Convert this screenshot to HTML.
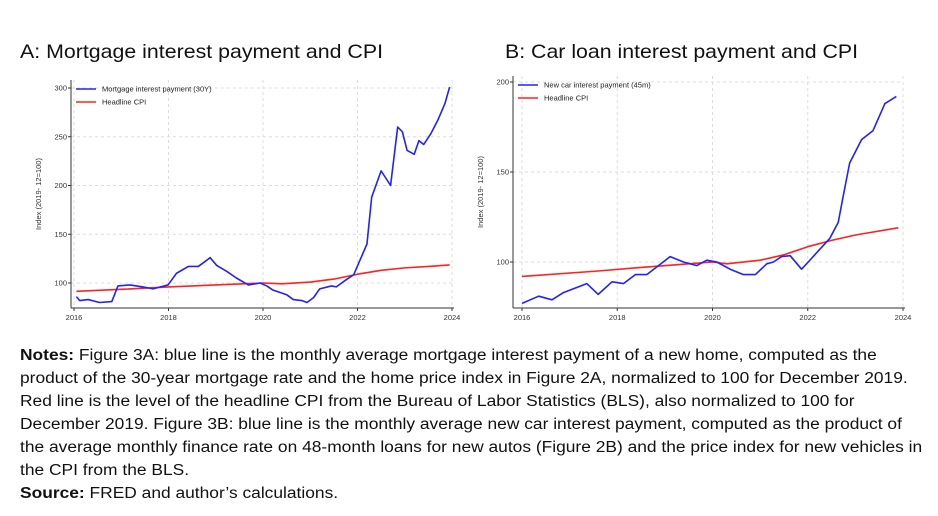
<!DOCTYPE html>
<html><head><meta charset="utf-8"><style>
body{margin:0;background:#fff;width:938px;height:516px;overflow:hidden;font-family:"Liberation Sans",Arial,sans-serif}
#notes{position:absolute;left:20px;top:344px;font-size:15.3px;line-height:23px;color:#111;white-space:nowrap;transform:scaleX(1.136);transform-origin:0 0}
</style></head><body>
<svg id="svg" width="938" height="340" style="position:absolute;left:0;top:0">
<text x="20" y="58" font-size="19.5" fill="#111" textLength="363" lengthAdjust="spacingAndGlyphs">A: Mortgage interest payment and CPI</text>
<text x="505" y="58" font-size="19.5" fill="#111" textLength="353" lengthAdjust="spacingAndGlyphs">B: Car loan interest payment and CPI</text>
</svg>
<div id="notes"><b>Notes:</b> Figure 3A: blue line is the monthly average mortgage interest payment of a new home, computed as the<br>product of the 30-year mortgage rate and the home price index in Figure 2A, normalized to 100 for December 2019.<br>Red line is the level of the headline CPI from the Bureau of Labor Statistics (BLS), also normalized to 100 for<br>December 2019. Figure 3B: blue line is the monthly average new car interest payment, computed as the product of<br>the average monthly finance rate on 48-month loans for new autos (Figure 2B) and the price index for new vehicles in<br>the CPI from the BLS.<br><b>Source:</b> FRED and author’s calculations.</div>
<script>
const xTicks=[2016,2018,2020,2022,2024];
const yTicksA=[100,150,200,250,300];
const yTicksB=[100,150,200];
const mortT=[2016.05,2016.12,2016.3,2016.54,2016.8,2016.93,2017.18,2017.46,2017.67,2017.99,2018.17,2018.42,2018.63,2018.8,2018.88,2019.02,2019.23,2019.44,2019.69,2019.94,2020.08,2020.2,2020.5,2020.64,2020.82,2020.93,2021.07,2021.2,2021.45,2021.55,2021.75,2021.92,2022.2,2022.3,2022.5,2022.7,2022.85,2022.95,2023.05,2023.2,2023.3,2023.4,2023.55,2023.7,2023.85,2023.95];
const mortV=[86,82,83,80,81,97,98,96,94,98,110,117,117,123,126,118,112,105,98,100,97,93,88,83,82,80,85,94,97,96,103,108.5,140,188,215,200,260,255,236,232,246,242,253,267,284,301];
const cpiAT=[2016.05,2017,2018,2019,2020,2020.4,2021,2021.5,2022,2022.5,2023,2023.5,2023.95];
const cpiAV=[91.5,93.5,96,98,100,99.2,101,104,109,113,115.5,117,118.5];
const carT=[2016.0,2016.35,2016.63,2016.87,2017.36,2017.6,2017.89,2018.13,2018.38,2018.62,2019.11,2019.39,2019.67,2019.88,2020.09,2020.37,2020.65,2020.9,2021.14,2021.28,2021.45,2021.63,2021.87,2022.01,2022.25,2022.46,2022.64,2022.74,2022.88,2023.13,2023.37,2023.62,2023.86];
const carV=[77,81,79,83,88,82,89,88,93,93,103,100,98,101,100,96,93,93,99,100,103,103.5,96,100,107,113,122,136,155,168,173,188,192];
const cpiBT=[2016.0,2017.6,2018.5,2019.5,2020,2020.3,2021,2021.5,2022,2022.5,2023,2023.9];
const cpiBV=[92,95,97,99,100,99,101,104,108.5,112,115,119];
const NS="http://www.w3.org/2000/svg";
const svg=document.getElementById('svg');
function el(t,a,p){const e=document.createElementNS(NS,t);for(const k in a)e.setAttribute(k,a[k]);(p||svg).appendChild(e);return e;}
function chart(o){
  const X=v=>o.x0+(v-2016)/8*(o.x1-o.x0);
  const Y=v=>o.y100-(v-100)*o.k;
  const g=el('g',{});
  
  
  xTicks.forEach(t=>{
    const l=el('line',{x1:X(t),x2:X(t),y1:o.top,y2:o.bot,stroke:'#ddd','stroke-dasharray':'3,3'},g);
    
    el('line',{x1:X(t),x2:X(t),y1:o.bot,y2:o.bot+3,stroke:'#333'},g);
    const tx=el('text',{x:X(t),y:o.bot+12,'font-size':7.5,'text-anchor':'middle',fill:'#333'},g);tx.textContent=t;
    
  });
  o.yt.forEach(t=>{
    const l=el('line',{x1:o.axL,x2:X(2024),y1:Y(t),y2:Y(t),stroke:'#ddd','stroke-dasharray':'3,3'},g);
    
    el('line',{x1:o.axL-3,x2:o.axL,y1:Y(t),y2:Y(t),stroke:'#333'},g);
    const tx=el('text',{x:o.axL-4,y:Y(t)+2.5,'font-size':7.5,'text-anchor':'end',fill:'#333'},g);tx.textContent=t;
    
  });
  el('line',{x1:o.axL,x2:o.axL,y1:o.top,y2:o.bot,stroke:'#333'},g);
  el('line',{x1:o.axL,x2:X(2024)+2,y1:o.bot,y2:o.bot,stroke:'#333'},g);
  const yt=el('text',{x:0,y:0,'font-size':7.5,fill:'#333','text-anchor':'middle',transform:`translate(${o.axL-30},${(o.top+o.bot)/2}) rotate(-90)`},g);
  yt.textContent='Index (2019- 12=100)';
  function line(T,V,c,n){const p=el('polyline',{points:T.map((t,i)=>X(t)+','+Y(V[i])).join(' '),fill:'none',stroke:c,'stroke-width':1.6,'stroke-linejoin':'round'},g);
    }
  line(o.cT,o.cV,'#f22','cpi-line');
  line(o.sT,o.sV,'#22f',o.sname);
  [[o.lab,'#22f'],['Headline CPI','#f22']].forEach((L,i)=>{
    const yy=o.top+9+i*13;
    el('line',{x1:o.axL+5,x2:o.axL+25,y1:yy,y2:yy,stroke:L[1],'stroke-width':1.6},g);
    const tx=el('text',{x:o.axL+31,y:yy+2.5,'font-size':7.5,fill:'#222'},g);tx.textContent=L[0];
    
  });
}
chart({name:'chart-a',x0:74,x1:452,axL:71,y100:283,k:0.975,top:80,bot:308,yt:yTicksA,sT:mortT,sV:mortV,cT:cpiAT,cV:cpiAV,lab:'Mortgage interest payment (30Y)',sname:'mortgage-line'});
chart({name:'chart-b',x0:522,x1:903,axL:513,y100:262,k:1.8,top:76,bot:308,yt:yTicksB,sT:carT,sV:carV,cT:cpiBT,cV:cpiBV,lab:'New car interest payment (45m)',sname:'car-line'});
</script>
</body></html>
